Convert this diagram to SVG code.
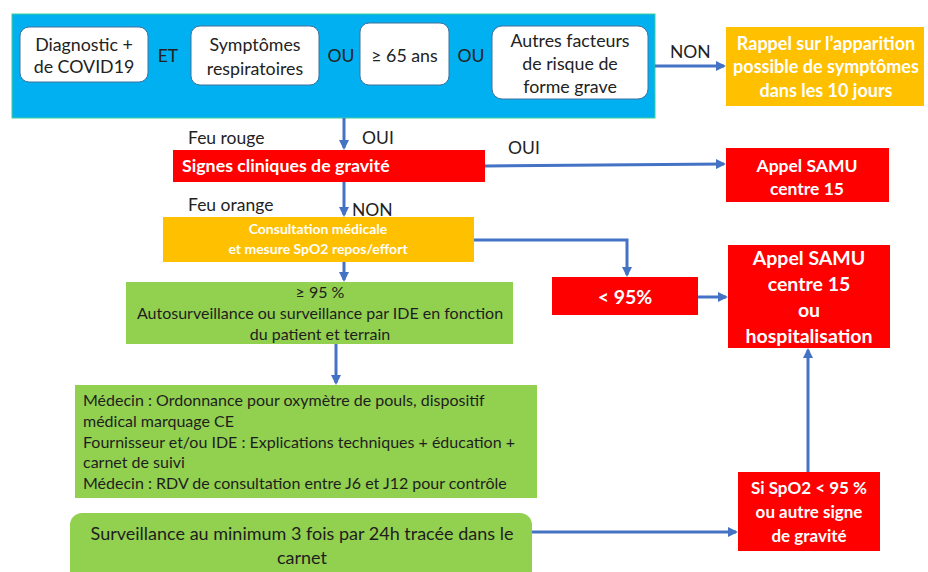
<svg xmlns="http://www.w3.org/2000/svg" width="928" height="572" viewBox="0 0 928 572">
<defs>
<marker id="ah" markerWidth="10" markerHeight="10" refX="8" refY="5" orient="auto" markerUnits="userSpaceOnUse">
<path d="M0,0 L10,5 L0,10 z" fill="#4472C4"/>
</marker>
<style>
text{font-family:Lato,"Open Sans","Liberation Sans",sans-serif;}
.wb{fill:#fff;stroke:#41719C;stroke-width:1}
.dk{fill:#222;font-size:17.8px;text-anchor:middle}
.lbl{fill:#222;font-size:17.5px}
.wt{fill:#fff;font-weight:bold;text-anchor:middle}
.gt{fill:#1e1e1e;font-size:16px}
.red{fill:#FF0000}
.org{fill:#FFC000}
.grn{fill:#92D050}
.con{stroke:#4472C4;stroke-width:3;fill:none;marker-end:url(#ah)}
</style>
</defs>
<rect width="928" height="572" fill="#fff"/>

<g id="top">
<rect x="12" y="14" width="643" height="104" fill="#00B0F0" stroke="#3fcf9a" stroke-width="1"/>
<text class="lbl" x="168" y="62" text-anchor="middle">ET</text>
<text class="lbl" x="341" y="62" text-anchor="middle">OU</text>
<text class="lbl" x="471" y="62" text-anchor="middle">OU</text>
</g>
<g id="n-diag">
<rect class="wb" x="20" y="27" width="128" height="55" rx="9"/>
<text class="dk" x="84" y="51">Diagnostic +</text>
<text class="dk" x="84" y="73">de COVID19</text>
</g>
<g id="n-sympt">
<rect class="wb" x="191" y="26" width="128" height="59" rx="9"/>
<text class="dk" x="255" y="51">Symptômes</text>
<text class="dk" x="255" y="75">respiratoires</text>
</g>
<g id="n-age">
<rect class="wb" x="360" y="23" width="89" height="62" rx="9"/>
<text class="dk" x="404.5" y="62">≥ 65 ans</text>
</g>
<g id="n-autres">
<rect class="wb" x="492" y="26" width="156" height="73" rx="10"/>
<text class="dk" x="570" y="47">Autres facteurs</text>
<text class="dk" x="570" y="70">de risque de</text>
<text class="dk" x="570" y="93">forme grave</text>
</g>
<g id="n-rappel">
<rect class="org" x="726" y="27" width="198" height="79"/>
<text class="wt" x="826" y="50" font-size="18">Rappel sur l’apparition</text>
<text class="wt" x="826" y="73" font-size="18">possible de symptômes</text>
<text class="wt" x="826" y="97" font-size="18">dans les 10 jours</text>
</g>
<g id="n-signes">
<rect class="red" x="173" y="150" width="312" height="32"/>
<text x="182" y="172" fill="#fff" font-weight="bold" font-size="17.8">Signes cliniques de gravité</text>
</g>
<g id="n-samu1">
<rect class="red" x="726" y="148" width="163" height="54"/>
<text class="wt" x="807" y="172" font-size="17.5">Appel SAMU</text>
<text class="wt" x="807" y="195" font-size="17.5">centre 15</text>
</g>
<g id="n-consult">
<rect class="org" x="163" y="217" width="311" height="45"/>
<text class="wt" x="318" y="234" font-size="14">Consultation médicale</text>
<text class="wt" x="318" y="254" font-size="14">et mesure SpO2 repos/effort</text>
</g>
<g id="n-inf95">
<rect class="red" x="552" y="277" width="146" height="38"/>
<text class="wt" x="625" y="304" font-size="19.5">&lt; 95%</text>
</g>
<g id="n-samu2">
<rect class="red" x="728" y="245" width="162" height="103"/>
<text class="wt" x="809" y="265" font-size="19.5">Appel SAMU</text>
<text class="wt" x="809" y="291" font-size="19.5">centre 15</text>
<text class="wt" x="809" y="317" font-size="19.5">ou</text>
<text class="wt" x="809" y="343" font-size="19.5">hospitalisation</text>
</g>
<g id="n-sup95">
<rect class="grn" x="126" y="282" width="387" height="62"/>
<text class="gt" x="320" y="298" text-anchor="middle">≥ 95 %</text>
<text class="gt" x="320" y="319" text-anchor="middle">Autosurveillance ou surveillance par IDE en fonction</text>
<text class="gt" x="320" y="340" text-anchor="middle">du patient et terrain</text>
</g>
<g id="n-medecin">
<rect class="grn" x="75" y="385" width="462" height="113"/>
<text class="gt" x="83" y="406">Médecin : Ordonnance pour oxymètre de pouls, dispositif</text>
<text class="gt" x="83" y="427">médical marquage CE</text>
<text class="gt" x="83" y="448">Fournisseur et/ou IDE : Explications techniques + éducation +</text>
<text class="gt" x="83" y="468">carnet de suivi</text>
<text class="gt" x="83" y="489">Médecin : RDV de consultation entre J6 et J12 pour contrôle</text>
</g>
<g id="n-surv">
<rect class="grn" x="70" y="513" width="462" height="70" rx="12"/>
<text x="302" y="540" fill="#1e1e1e" font-size="18" text-anchor="middle">Surveillance au minimum 3 fois par 24h tracée dans le</text>
<text x="302" y="564" fill="#1e1e1e" font-size="18" text-anchor="middle">carnet</text>
</g>
<g id="n-sispo2">
<rect class="red" x="738" y="472" width="142" height="79"/>
<text class="wt" x="809" y="494" font-size="17">Si SpO2 &lt; 95 %</text>
<text class="wt" x="809" y="518" font-size="17">ou autre signe</text>
<text class="wt" x="809" y="542" font-size="17">de gravité</text>
</g>

<g id="connectors">
<path class="con" d="M655,66 H724"/>
<path class="con" d="M344,118 V148"/>
<path class="con" d="M485,166 L724,164"/>
<path class="con" d="M344,182 V215"/>
<path class="con" d="M474,240 H627 V275"/>
<path class="con" d="M698,297 H726"/>
<path class="con" d="M344,262 V280"/>
<path class="con" d="M336,344 V383"/>
<path class="con" d="M532,532 H736"/>
<path class="con" d="M808,472 V350"/>
</g>
<g id="labels">
<text class="lbl" x="670" y="58">NON</text>
<text class="lbl" x="188" y="144">Feu rouge</text>
<text class="lbl" x="362" y="144">OUI</text>
<text class="lbl" x="508" y="154">OUI</text>
<text class="lbl" x="188" y="211">Feu orange</text>
<text class="lbl" x="352" y="216">NON</text>
</g>
</svg>
